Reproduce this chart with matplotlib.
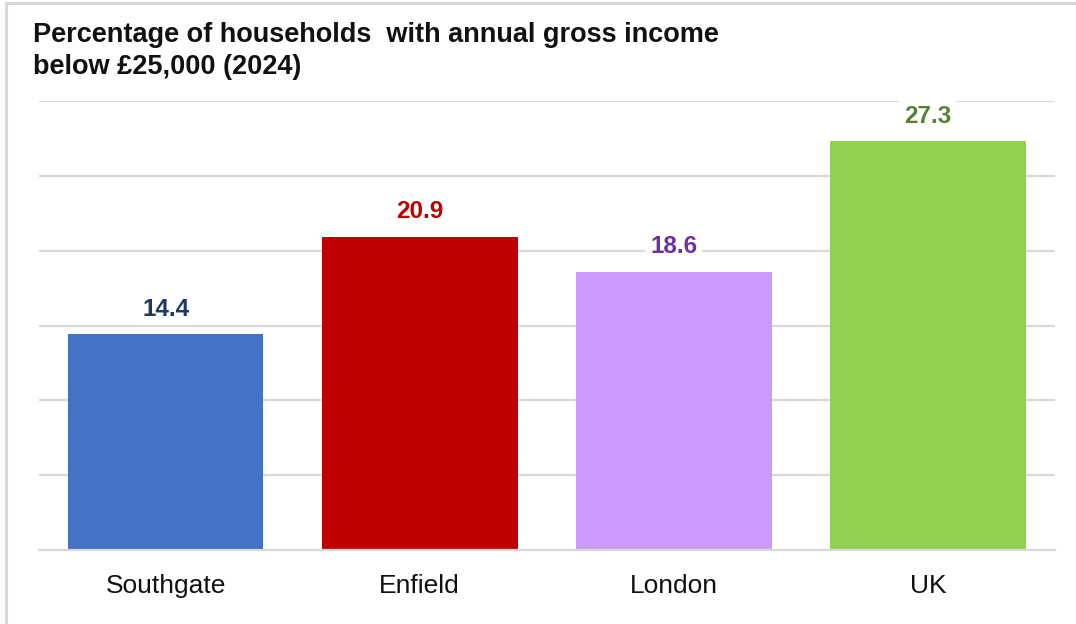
import matplotlib
matplotlib.use("Agg")
import matplotlib.pyplot as plt
from matplotlib.patches import Rectangle

categories = ["Southgate", "Enfield", "London", "UK"]
values = [14.4, 20.9, 18.6, 27.3]
bar_colors = ["#4472C4", "#C00000", "#CC99FF", "#92D050"]
label_colors = ["#1F3864", "#C00000", "#7030A0", "#548235"]
title = "Percentage of households  with annual gross income\nbelow £25,000 (2024)"

plt.rcParams['font.family'] = ['Liberation Sans', 'DejaVu Sans']

fig = plt.figure(figsize=(10.76, 6.24), dpi=100)
fig.patch.set_facecolor("white")

# outer border
fig.patches.append(Rectangle((6/1076, -0.05), 1.2, (624-3)/624 + 0.05,
                             transform=fig.transFigure, fill=False,
                             edgecolor="#D9D9D9", linewidth=2.2))

ax = fig.add_axes([38.5/1076, (624-550)/624, (1055-38.5)/1076, (550-101)/624])
x = list(range(len(categories)))
ax.bar(x, values, width=0.77, color=bar_colors, zorder=2)
ax.set_xlim(-0.5, len(categories) - 0.5)
ax.set_ylim(0, 30)
ax.set_yticks([0, 5, 10, 15, 20, 25, 30])
ax.yaxis.grid(True, color="#D9D9D9", linewidth=1.6, zorder=0)
ax.set_axisbelow(True)
ax.tick_params(axis='y', left=False, labelleft=False)
ax.tick_params(axis='x', length=0, pad=17, labelsize=19, labelcolor="#111111")
ax.set_xticks(x)
ax.set_xticklabels(categories)
for s in ["top", "right", "left"]:
    ax.spines[s].set_visible(False)
ax.spines["bottom"].set_color("#D9D9D9")
ax.spines["bottom"].set_linewidth(1.6)

for xi, v, c in zip(x, values, label_colors):
    ax.annotate(f"{v:.1f}", (xi, v), xytext=(0, 10), textcoords="offset points",
                ha="center", va="bottom", fontsize=17.5, fontweight="bold", color=c,
                bbox=dict(boxstyle="square,pad=0.2", facecolor="white", edgecolor="none"),
                zorder=3)

fig.text(33/1076, 1 - 22/624, title, ha="left", va="top", fontsize=19.5,
         fontweight="bold", color="#111111", linespacing=1.32)

fig.savefig("out.png", dpi=100)
